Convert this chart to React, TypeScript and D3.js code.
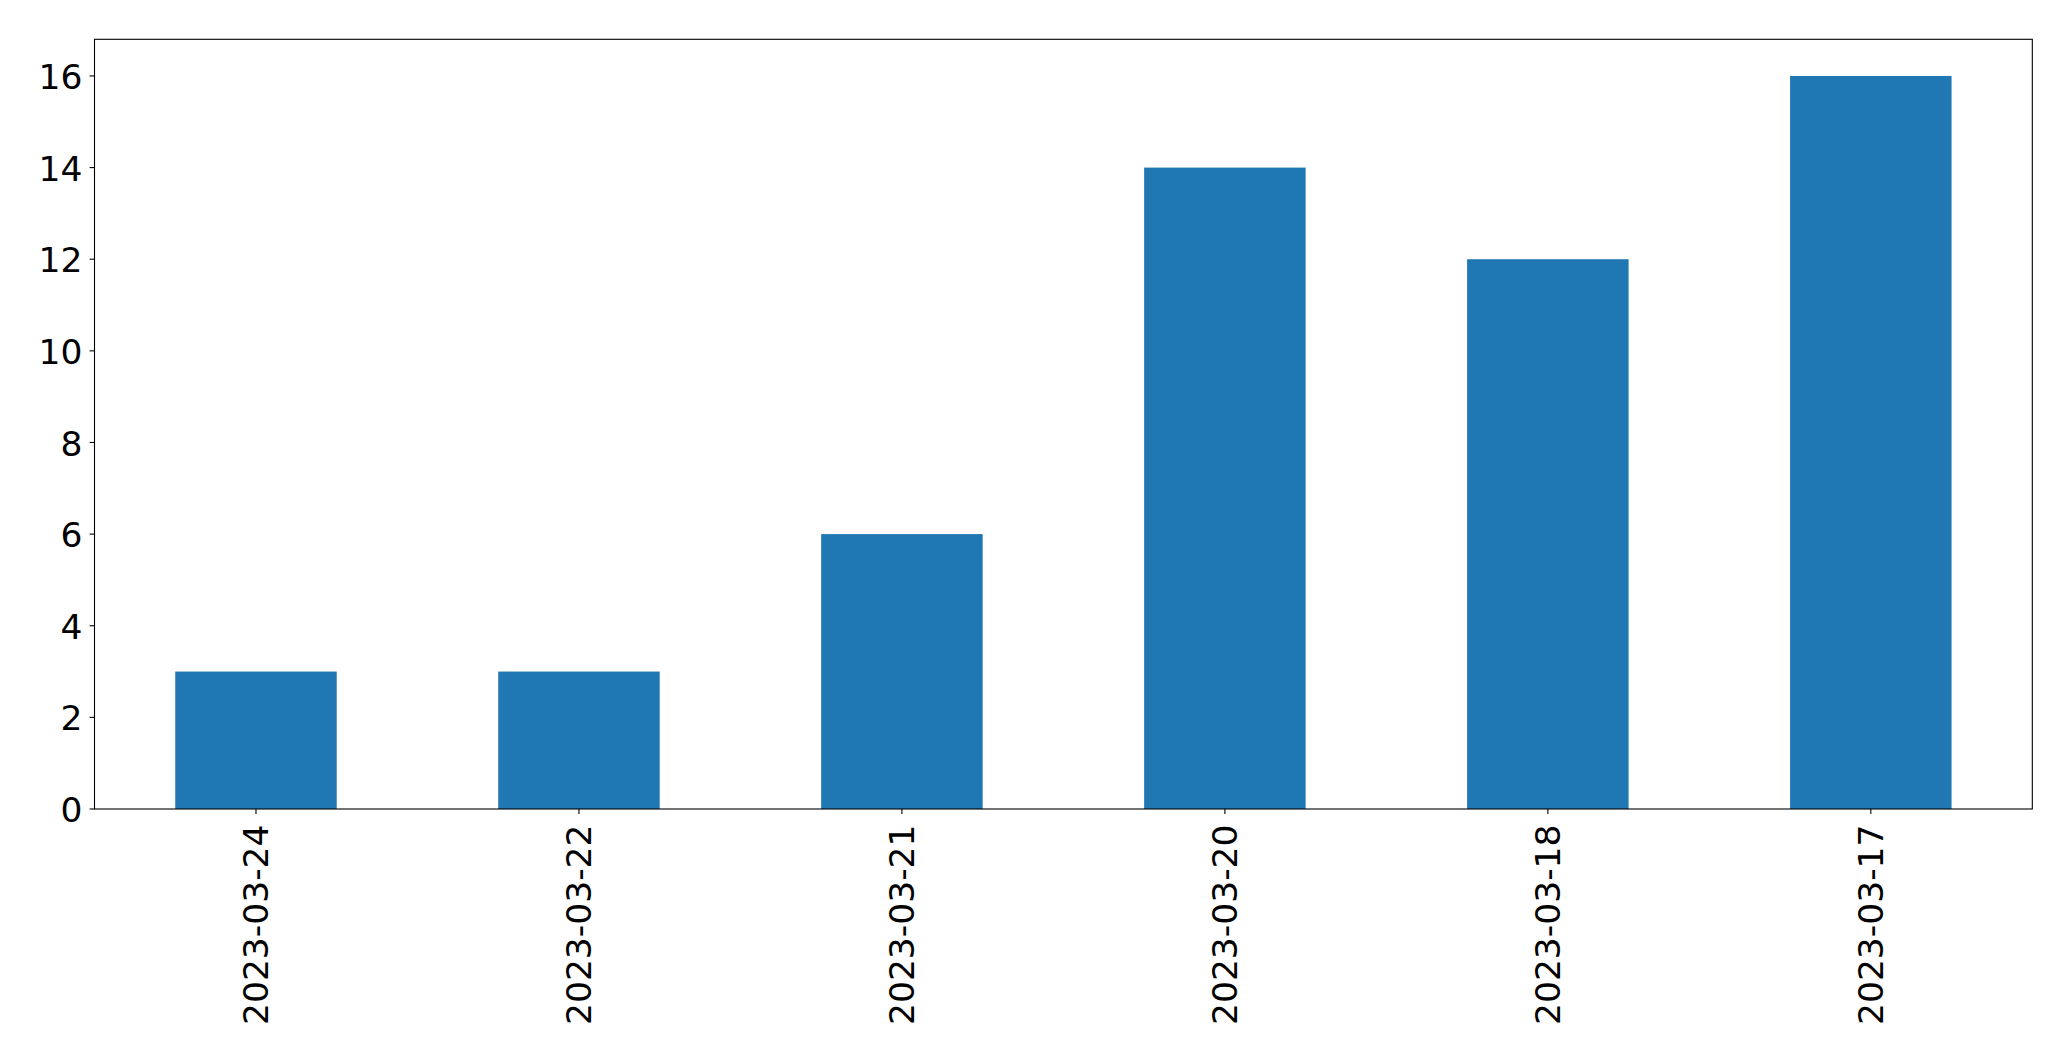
import React from "react";
import * as d3 from "d3";

const categories: string[] = ["2023-03-24", "2023-03-22", "2023-03-21", "2023-03-20", "2023-03-18", "2023-03-17"];
const values: number[] = [3, 3, 6, 14, 12, 16];
const yTicks: number[] = [0, 2, 4, 6, 8, 10, 12, 14, 16];

const W = 2071;
const H = 1061;
const left = 94.5;
const right = 2032.3;
const top = 39.3;
const bottom = 809;
const FONT = "'DejaVu Sans', sans-serif";
const FS = 34.5;

export default function App() {
  const n = categories.length;
  const x = d3.scaleLinear().domain([-0.5, n - 0.5]).range([left, right]);
  const ymax = d3.max(values)! * 1.05;
  const y = d3.scaleLinear().domain([0, ymax]).range([bottom, top]);
  const bw = x(0.25) - x(-0.25);

  return (
    <svg width={W} height={H} style={{ position: "absolute", top: 0, left: 0, background: "#fff" }}>
      <rect x={0} y={0} width={W} height={H} fill="#fff" />
      {values.map((v, i) => (
        <rect key={i} x={x(i) - bw / 2} y={y(v)} width={bw} height={y(0) - y(v)} fill="#1f77b4" />
      ))}
      <rect x={left} y={top} width={right - left} height={bottom - top} fill="none" stroke="#000" strokeWidth={1.1} />
      {yTicks.map((t) => (
        <g key={t}>
          <line x1={left - 4.9} x2={left} y1={y(t)} y2={y(t)} stroke="#000" strokeWidth={1.1} />
          <text x={left - 12} y={y(t)} dy="0.38em" textAnchor="end" fontFamily={FONT} fontSize={FS} fill="#000">
            {t}
          </text>
        </g>
      ))}
      {categories.map((c, i) => (
        <g key={c}>
          <line x1={x(i)} x2={x(i)} y1={bottom} y2={bottom + 4.9} stroke="#000" strokeWidth={1.1} />
          <text
            transform={`translate(${x(i)},${bottom + 15.5}) rotate(-90)`}
            dy="0.36em"
            textAnchor="end"
            fontFamily={FONT}
            fontSize={FS}
            fill="#000"
          >
            {c}
          </text>
        </g>
      ))}
    </svg>
  );
}
